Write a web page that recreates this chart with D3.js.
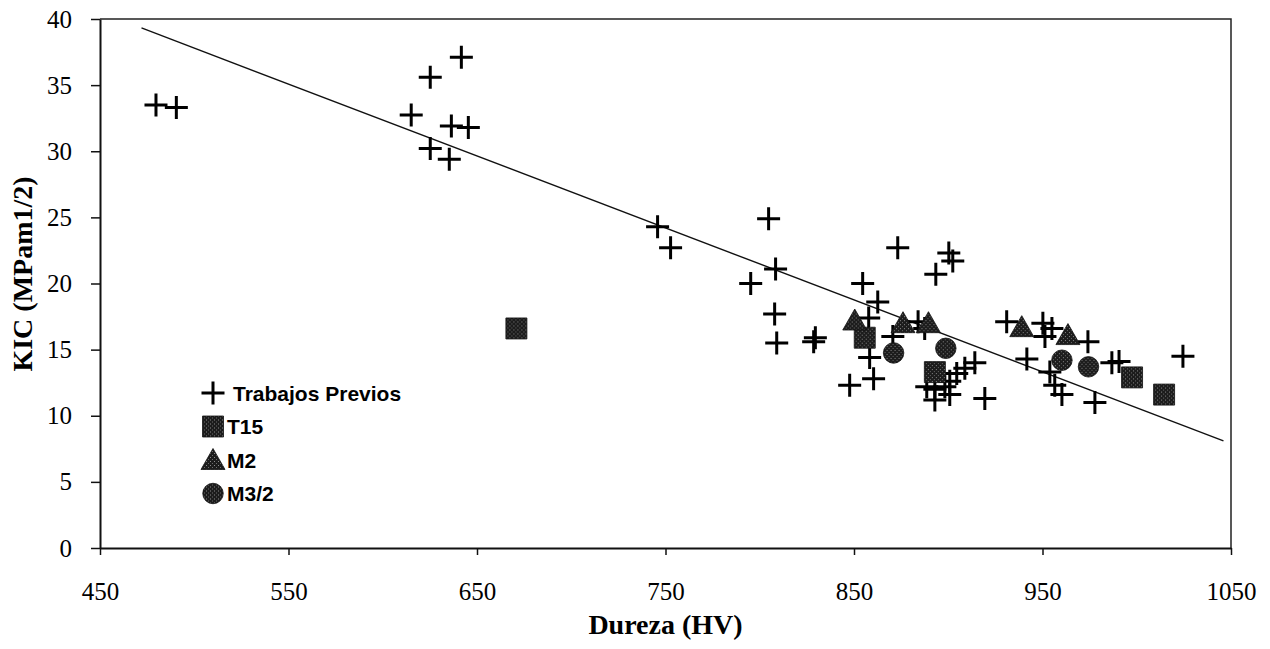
<!DOCTYPE html>
<html>
<head>
<meta charset="utf-8">
<script src="https://cdn.jsdelivr.net/npm/d3@7"></script>
<style>
  body { margin: 0; background: #fff; }
  .tick text { font-family: "Liberation Serif", "Times New Roman", serif; font-size: 25px; fill: #000; }
  .axis-title { font-family: "Liberation Serif", "Times New Roman", serif; font-size: 28px; font-weight: bold; }
  .legend-text { font-family: "Liberation Sans", Arial, sans-serif; font-size: 21px; font-weight: bold; }
</style>
</head>
<body>
<div id="chart"></div>
<script>
// values
const x_ticks = [450, 550, 650, 750, 850, 950, 1050];
const y_ticks = [0, 5, 10, 15, 20, 25, 30, 35, 40];

const previos_x = [479.7, 490.5, 641.7, 625.2, 615.1, 636.4, 645.4, 625.2, 635.3, 745.8,
                   752.7, 804.7, 808.4, 795.2, 807.9, 809.0, 829.5, 828.6, 854.6, 862.6,
                   873.2, 900.3, 902.4, 893.4, 857.8, 858.3, 860.4, 847.7, 884.0, 887.5,
                   870.6, 914.1, 908.8, 904.5, 900.8, 898.2, 892.9, 888.6, 900.8, 892.9,
                   919.4, 931.0, 950.2, 955.0, 951.3, 974.1, 941.7, 953.9, 956.5, 960.3,
                   977.8, 986.8, 990.6, 1024.5];
const previos_y = [33.5, 33.3, 37.1, 35.6, 32.75, 31.9, 31.8, 30.2, 29.4, 24.3,
                   22.7, 24.9, 21.1, 20.0, 17.7, 15.5, 15.9, 15.6, 20.0, 18.6,
                   22.7, 22.3, 21.7, 20.7, 17.4, 14.4, 12.8, 12.3, 17.1, 16.6,
                   16.0, 14.0, 13.6, 13.2, 12.6, 12.2, 12.0, 12.2, 11.6, 11.2,
                   11.3, 17.1, 17.0, 16.6, 16.0, 15.6, 14.3, 13.3, 12.3, 11.6,
                   11.0, 14.0, 14.1, 14.5];

const t15_x = [670.9, 855.7, 892.9, 997.5, 1014.5];
const t15_y = [16.6, 15.9, 13.3, 12.9, 11.6];

const m2_x = [850.4, 876.0, 889.5, 939.0, 963.5];
const m2_y = [17.2, 17.0, 17.0, 16.7, 16.1];

const m32_x = [871.0, 898.7, 960.3, 974.4];
const m32_y = [14.75, 15.1, 14.2, 13.7];

// linear trend: KIC = a + b * HV
const trend_coef = [65.0, -0.0544];
const trend_range = [472, 1046];

const legend_names = ["Trabajos Previos", "T15", "M2", "M3/2"];

const chart = {
  width: 1270,
  height: 649,
  plot: { left: 100, right: 1231, top: 19, bottom: 548 }
};

const svg = d3.select("#chart")
  .append("svg")
    .attr("width", chart.width)
    .attr("height", chart.height);

// stippled fill like the scanned markers
const defs = svg.append("defs");
const pat = defs.append("pattern")
  .attr("id", "stipple")
  .attr("width", 4).attr("height", 4)
  .attr("patternUnits", "userSpaceOnUse");
pat.append("rect").attr("width", 4).attr("height", 4).attr("fill", "#1c1c1c");
pat.append("rect").attr("x", 1).attr("y", 1).attr("width", 1).attr("height", 1).attr("fill", "#8a8a8a");
pat.append("rect").attr("x", 3).attr("y", 3).attr("width", 1).attr("height", 1).attr("fill", "#6a6a6a");

const x = d3.scaleLinear().domain([450, 1050]).range([chart.plot.left, chart.plot.right]);
const y = d3.scaleLinear().domain([0, 40]).range([chart.plot.bottom, chart.plot.top]);

// plot border (top and right)
svg.append("path")
  .attr("d", `M${chart.plot.left},${chart.plot.top}H${chart.plot.right}V${chart.plot.bottom}`)
  .attr("fill", "none")
  .attr("stroke", "#222")
  .attr("stroke-width", 1.5);

const x_axis = svg.append("g")
  .attr("transform", `translate(0,${chart.plot.bottom})`)
  .call(d3.axisBottom(x).tickValues(x_ticks).tickSizeInner(7).tickSizeOuter(0).tickPadding(27).tickFormat(d3.format("d")));

const y_axis = svg.append("g")
  .attr("transform", `translate(${chart.plot.left},0)`)
  .call(d3.axisLeft(y).tickValues(y_ticks).tickSizeInner(9).tickSizeOuter(0).tickPadding(19).tickFormat(d3.format("d")));

[x_axis, y_axis].forEach(a => {
  a.select(".domain").attr("stroke", "#111").attr("stroke-width", 2);
  a.selectAll(".tick line").attr("stroke", "#111").attr("stroke-width", 1.5);
});

// titles
svg.append("text")
  .attr("class", "axis-title")
  .attr("x", (chart.plot.left + chart.plot.right) / 2)
  .attr("y", 634)
  .attr("text-anchor", "middle")
  .text("Dureza (HV)");

svg.append("text")
  .attr("class", "axis-title")
  .attr("transform", `translate(32,274) rotate(-90)`)
  .attr("text-anchor", "middle")
  .text("KIC (MPam1/2)");

// trend line
const trend_pts = trend_range.map(v => [v, trend_coef[0] + trend_coef[1] * v]);
svg.append("line")
  .attr("x1", x(trend_pts[0][0])).attr("y1", y(trend_pts[0][1]))
  .attr("x2", x(trend_pts[1][0])).attr("y2", y(trend_pts[1][1]))
  .attr("stroke", "#111")
  .attr("stroke-width", 1.4);

const zip = (xs, ys) => xs.map((v, i) => [v, ys[i]]);

// markers
const cross_path = (s) => `M${-s/2},0H${s/2}M0,${-s/2}V${s/2}`;
const marker = {
  square:   d3.symbol().type(d3.symbolSquare).size(441),
  triangle: () => "M0,-11.5L12,9.5L-12,9.5Z",
  circle:   d3.symbol().type(d3.symbolCircle).size(330)
};

function draw_crosses(g, data) {
  g.selectAll("path.cross")
    .data(data)
    .join("path")
      .attr("class", "cross")
      .attr("transform", d => `translate(${x(d[0])},${y(d[1])})`)
      .attr("d", cross_path(23))
      .attr("stroke", "#000")
      .attr("stroke-width", 3)
      .attr("fill", "none");
}

function draw_filled(g, data, shape, cls) {
  g.selectAll(`path.${cls}`)
    .data(data)
    .join("path")
      .attr("class", cls)
      .attr("transform", d => `translate(${x(d[0])},${y(d[1])})`)
      .attr("d", shape)
      .attr("fill", "url(#stipple)")
      .attr("stroke", "#111")
      .attr("stroke-width", 0.8);
}

const points = svg.append("g");
draw_crosses(points.append("g"), zip(previos_x, previos_y));
draw_filled(points.append("g"), zip(t15_x, t15_y), marker.square(), "sq");
draw_filled(points.append("g"), zip(m2_x, m2_y), marker.triangle(), "tri");
draw_filled(points.append("g"), zip(m32_x, m32_y), marker.circle(), "circ");

// legend
const legend = svg.append("g").attr("transform", "translate(213,393)");
const legend_shapes = [null, marker.square(), marker.triangle(), marker.circle()];
legend_names.forEach((name, i) => {
  const row = legend.append("g").attr("transform", `translate(0,${i * 33.5})`);
  if (i === 0) {
    row.append("path").attr("d", cross_path(23)).attr("stroke", "#000").attr("stroke-width", 3);
  } else {
    row.append("path").attr("d", legend_shapes[i]).attr("fill", "url(#stipple)").attr("stroke", "#111").attr("stroke-width", 0.8);
  }
  row.append("text")
    .attr("class", "legend-text")
    .attr("x", i === 0 ? 20 : 14)
    .attr("y", 7.5)
    .text(name);
});
</script>
</body>
</html>
